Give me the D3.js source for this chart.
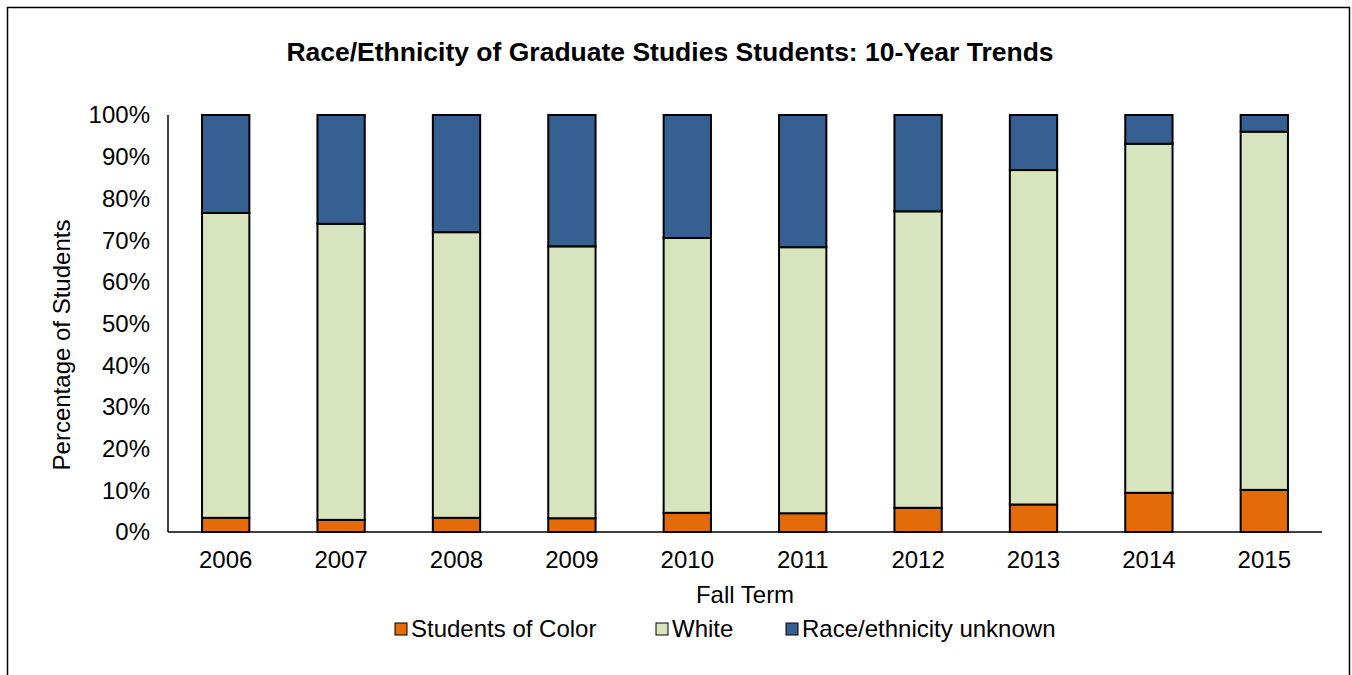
<!DOCTYPE html>
<html><head><meta charset="utf-8">
<script src="https://cdn.jsdelivr.net/npm/d3@7"></script>
<style>body{margin:0;background:#fff}svg{display:block;font-family:"Liberation Sans",Arial,sans-serif}</style>
</head><body><svg id="c" width="1352" height="675"></svg>
<script>
const years = ["2006","2007","2008","2009","2010","2011","2012","2013","2014","2015"];
const studentsOfColor = [3.4, 2.9, 3.4, 3.3, 4.6, 4.5, 5.8, 6.6, 9.4, 10.1];
const white = [73.1, 71.0, 68.5, 65.2, 65.9, 63.8, 71.1, 80.2, 83.7, 85.9];
const unknown = [23.5, 26.1, 28.1, 31.5, 29.5, 31.7, 23.1, 13.2, 6.9, 4.0];
const seriesNames = ["Students of Color", "White", "Race/ethnicity unknown"];
const yTicks = [0,10,20,30,40,50,60,70,80,90,100];
const colors = ["#E36C09", "#D7E4BD", "#366092"];

(function(){
const svg = d3.select("#c");
svg.append("rect").attr("x",7.5).attr("y",7.5).attr("width",1342).attr("height",700)
  .attr("fill","#fff").attr("stroke","#000").attr("stroke-width",1.5);

const pL=168, pR=1322, pT=115, pB=532;
const x = d3.scaleBand().domain(years).range([pL,pR]).paddingInner(0.59).paddingOuter(0.295);
const y = d3.scaleLinear().domain([0,100]).range([pB,pT]);

const table = years.map((yr,i)=>({year:yr, s0:studentsOfColor[i], s1:white[i], s2:unknown[i]}));
const stack = d3.stack().keys(["s0","s1","s2"]).offset(d3.stackOffsetExpand)(table);

svg.append("g").selectAll("g").data(stack).join("g")
  .attr("fill",(d,i)=>colors[i])
  .selectAll("rect").data(d=>d).join("rect")
  .attr("x",d=>x(d.data.year)).attr("width",x.bandwidth())
  .attr("y",d=>y(d[1]*100)).attr("height",d=>y(d[0]*100)-y(d[1]*100))
  .attr("stroke","#000").attr("stroke-width",2);

svg.append("line").attr("x1",pL).attr("x2",pL).attr("y1",pT).attr("y2",pB).attr("stroke","#000").attr("stroke-width",1.5);
svg.append("line").attr("x1",pL).attr("x2",pR).attr("y1",pB).attr("y2",pB).attr("stroke","#000").attr("stroke-width",1.5);

svg.append("g").selectAll("text").data(yTicks).join("text")
  .attr("x",150).attr("y",d=>y(d)).attr("dy","0.35em").attr("text-anchor","end")
  .attr("font-size",24).text(d=>d+"%");

svg.append("g").selectAll("text").data(years).join("text")
  .attr("x",d=>x(d)+x.bandwidth()/2).attr("y",560).attr("dy","0.35em").attr("text-anchor","middle")
  .attr("font-size",24).text(d=>d);

svg.append("text").attr("x",670).attr("y",52).attr("dy","0.35em").attr("text-anchor","middle")
  .attr("font-size",26.5).attr("font-weight","bold").text("Race/Ethnicity of Graduate Studies Students: 10-Year Trends");

svg.append("text").attr("x",745).attr("y",595).attr("dy","0.35em").attr("text-anchor","middle")
  .attr("font-size",24).text("Fall Term");

svg.append("text").attr("transform","translate(62,345) rotate(-90)").attr("dy","0.35em").attr("text-anchor","middle")
  .attr("font-size",24).text("Percentage of Students");

const legX = [395, 656, 786];
const lg = svg.append("g").selectAll("g").data(seriesNames).join("g")
  .attr("transform",(d,i)=>`translate(${legX[i]},629)`);
lg.append("rect").attr("x",0).attr("y",-6).attr("width",12).attr("height",12)
  .attr("fill",(d,i)=>colors[i]).attr("stroke","#000").attr("stroke-width",1);
lg.append("text").attr("x",16).attr("y",0).attr("dy","0.35em").attr("font-size",24).text(d=>d);
})();
</script></body></html>
